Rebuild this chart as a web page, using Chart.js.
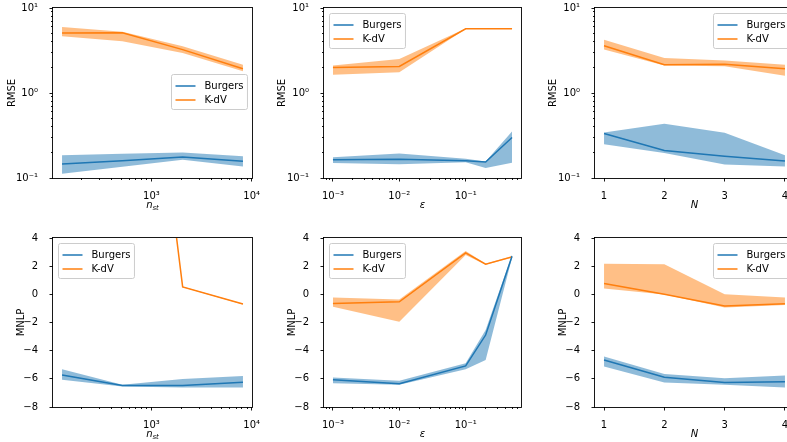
<!DOCTYPE html>
<html>
<head>
<meta charset="utf-8">
<script src="https://cdn.jsdelivr.net/npm/chart.js@4.4.0/dist/chart.umd.min.js"></script>
<style>
    html, body { margin: 0; padding: 0; background: #fff; overflow: hidden; width: 787px; height: 442px; }
    canvas { position: absolute; }
</style>
</head>
<body>
<canvas id="c0"></canvas>
<canvas id="c1"></canvas>
<canvas id="c2"></canvas>
<canvas id="c3"></canvas>
<canvas id="c4"></canvas>
<canvas id="c5"></canvas>
<script>
// ==================== DATA ====================
const nstValues = [128, 512, 2048, 8192];
const epsValues = [0.001, 0.01, 0.1, 0.2, 0.5];
const nValues = [1, 2, 3, 4];

// RMSE vs n_st
const rmseNstBurgers    = [0.146, 0.160, 0.177, 0.157];
const rmseNstBurgersLo  = [0.112, 0.136, 0.164, 0.137];
const rmseNstBurgersHi  = [0.185, 0.193, 0.200, 0.180];
const rmseNstKdv        = [5.08, 5.10, 3.24, 1.93];
const rmseNstKdvLo      = [4.64, 4.06, 2.95, 1.80];
const rmseNstKdvHi      = [5.98, 5.25, 3.54, 2.15];

// RMSE vs epsilon
const rmseEpsBurgers    = [0.164, 0.166, 0.160, 0.154, 0.300];
const rmseEpsBurgersLo  = [0.150, 0.145, 0.153, 0.131, 0.151];
const rmseEpsBurgersHi  = [0.175, 0.194, 0.168, 0.156, 0.354];
const rmseEpsKdv        = [2.00, 2.05, 5.70, 5.70, 5.70];
const rmseEpsKdvLo      = [1.64, 1.75, 5.65, 5.65, 5.65];
const rmseEpsKdvHi      = [2.10, 2.51, 5.75, 5.75, 5.75];

// RMSE vs N
const rmseNBurgers      = [0.333, 0.211, 0.180, 0.158];
const rmseNBurgersLo    = [0.250, 0.197, 0.144, 0.137];
const rmseNBurgersHi    = [0.344, 0.435, 0.340, 0.185];
const rmseNKdv          = [3.60, 2.15, 2.18, 1.93];
const rmseNKdvLo        = [3.24, 2.10, 2.06, 1.60];
const rmseNKdvHi        = [4.24, 2.58, 2.42, 2.15];

// MNLP vs n_st
const mnlpNstBurgers    = [-5.72, -6.47, -6.47, -6.24];
const mnlpNstBurgersLo  = [-6.07, -6.54, -6.61, -6.61];
const mnlpNstBurgersHi  = [-5.32, -6.42, -6.02, -5.79];
const mnlpNstKdv        = [45, 35, 0.53, -0.69];
const mnlpNstKdvLo      = [45, 35, 0.50, -0.72];
const mnlpNstKdvHi      = [45, 35, 0.56, -0.66];

// MNLP vs epsilon
const mnlpEpsBurgers    = [-6.07, -6.35, -5.08, -2.89, 2.70];
const mnlpEpsBurgersLo  = [-6.31, -6.42, -5.32, -4.66, 2.60];
const mnlpEpsBurgersHi  = [-5.90, -6.14, -4.90, -2.53, 2.82];
const mnlpEpsKdv        = [-0.65, -0.53, 2.94, 2.14, 2.66];
const mnlpEpsKdvLo      = [-0.88, -1.94, 2.80, 2.10, 2.60];
const mnlpEpsKdvHi      = [-0.22, -0.36, 3.08, 2.18, 2.72];

// MNLP vs N
const mnlpNBurgers      = [-4.66, -5.88, -6.26, -6.21];
const mnlpNBurgersLo    = [-5.13, -6.26, -6.42, -6.61];
const mnlpNBurgersHi    = [-4.42, -5.65, -5.95, -5.76];
const mnlpNKdv          = [0.77, 0.00, -0.83, -0.67];
const mnlpNKdvLo        = [0.42, -0.01, -0.93, -0.76];
const mnlpNKdvHi        = [2.18, 2.14, 0.00, -0.22];

const linearYTicks = [-8, -6, -4, -2, 0, 2, 4];
const linearXTicks = [1, 2, 3, 4];

// ==================== STYLE ====================
const FONT = '"DejaVu Sans", sans-serif';
const BLUE = '#1f77b4';
const ORANGE = '#ff7f0e';
const BLUE_FILL = 'rgba(31, 119, 180, 0.5)';
const ORANGE_FILL = 'rgba(255, 127, 14, 0.5)';

const SUP = { '-': '\u207b', '0': '\u2070', '1': '\u00b9', '2': '\u00b2', '3': '\u00b3', '4': '\u2074', '5': '\u2075' };

function logTicks(min, max) {
    const out = [];
    for (let e = Math.floor(Math.log10(min)); e <= Math.ceil(Math.log10(max)); e++) {
        for (let m = 1; m <= 9; m++) {
            const v = m * Math.pow(10, e);
            if (v >= min * (1 - 1e-9) && v <= max * (1 + 1e-9)) out.push(v);
        }
    }
    return out;
}

function logLabel(v) {
    const l = Math.log10(v);
    const e = Math.round(l);
    if (Math.abs(l - e) > 1e-6) return '';
    return '10' + String(e).split('').map(c => SUP[c]).join('');
}

function linLabel(v) {
    return String(v).replace('-', '\u2212');
}

// ==================== PANELS ====================
const panels = [
    { id: 'c0', left: 0, top: 0, width: 262, height: 221, area: [53, 8, 252, 178],
      xType: 'logarithmic', xMin: 103.97, xMax: 10085, xs: nstValues, xLabel: { main: 'n', sub: 'st' },
      yType: 'logarithmic', yMin: 0.1, yMax: 10, yLabel: 'RMSE', yLabelOffset: 41, legend: 'center right',
      burgers: [rmseNstBurgers, rmseNstBurgersLo, rmseNstBurgersHi], kdv: [rmseNstKdv, rmseNstKdvLo, rmseNstKdvHi] },
    { id: 'c1', left: 262, top: 0, width: 262, height: 221, area: [324, 8, 521, 178],
      xType: 'logarithmic', xMin: 0.000733, xMax: 0.6824, xs: epsValues, xLabel: { main: '\u03b5' },
      yType: 'logarithmic', yMin: 0.1, yMax: 10, yLabel: 'RMSE', yLabelOffset: 42, legend: 'upper left',
      burgers: [rmseEpsBurgers, rmseEpsBurgersLo, rmseEpsBurgersHi], kdv: [rmseEpsKdv, rmseEpsKdvLo, rmseEpsKdvHi] },
    { id: 'c2', left: 524, top: 0, width: 280, height: 221, area: [595, 8, 794, 178],
      xType: 'linear', xMin: 0.85, xMax: 4.15, xs: nValues, xLabel: { main: 'N' },
      yType: 'logarithmic', yMin: 0.1, yMax: 10, yLabel: 'RMSE', yLabelOffset: 42, legend: 'upper right',
      burgers: [rmseNBurgers, rmseNBurgersLo, rmseNBurgersHi], kdv: [rmseNKdv, rmseNKdvLo, rmseNKdvHi] },
    { id: 'c3', left: 0, top: 221, width: 262, height: 221, area: [53, 238, 252, 407],
      xType: 'logarithmic', xMin: 103.97, xMax: 10085, xs: nstValues, xLabel: { main: 'n', sub: 'st' },
      yType: 'linear', yMin: -8, yMax: 4, yLabel: 'MNLP', yLabelOffset: 32, legend: 'upper left',
      burgers: [mnlpNstBurgers, mnlpNstBurgersLo, mnlpNstBurgersHi], kdv: [mnlpNstKdv, mnlpNstKdvLo, mnlpNstKdvHi] },
    { id: 'c4', left: 262, top: 221, width: 262, height: 221, area: [324, 238, 521, 407],
      xType: 'logarithmic', xMin: 0.000733, xMax: 0.6824, xs: epsValues, xLabel: { main: '\u03b5' },
      yType: 'linear', yMin: -8, yMax: 4, yLabel: 'MNLP', yLabelOffset: 32, legend: 'upper left',
      burgers: [mnlpEpsBurgers, mnlpEpsBurgersLo, mnlpEpsBurgersHi], kdv: [mnlpEpsKdv, mnlpEpsKdvLo, mnlpEpsKdvHi] },
    { id: 'c5', left: 524, top: 221, width: 280, height: 221, area: [595, 238, 794, 407],
      xType: 'linear', xMin: 0.85, xMax: 4.15, xs: nValues, xLabel: { main: 'N' },
      yType: 'linear', yMin: -8, yMax: 4, yLabel: 'MNLP', yLabelOffset: 32, legend: 'upper right',
      burgers: [mnlpNBurgers, mnlpNBurgersLo, mnlpNBurgersHi], kdv: [mnlpNKdv, mnlpNKdvLo, mnlpNKdvHi] }
];

// ==================== PLUGIN: frame, ticks, labels, legend ====================
const framePlugin = {
    id: 'frame',
    afterDraw(chart, args, opts) {
        const ctx = chart.ctx;
        const a = chart.chartArea;
        ctx.save();

        // tick marks (major 3.5, minor 2)
        ctx.strokeStyle = '#000';
        ctx.lineWidth = 0.9;
        const sx = chart.scales.x, sy = chart.scales.y;
        sx.ticks.forEach(t => {
            const px = sx.getPixelForValue(t.value);
            if (px < a.left - 0.5 || px > a.right + 0.5) return;
            const len = t.label ? 3.5 : 2;
            const x = Math.round(px - 0.5) + 0.5;
            ctx.beginPath(); ctx.moveTo(x, a.bottom); ctx.lineTo(x, a.bottom + len); ctx.stroke();
        });
        sy.ticks.forEach(t => {
            const py = sy.getPixelForValue(t.value);
            if (py < a.top - 0.5 || py > a.bottom + 0.5) return;
            const len = t.label ? 3.5 : 2;
            const y = Math.round(py - 0.5) + 0.5;
            ctx.beginPath(); ctx.moveTo(a.left, y); ctx.lineTo(a.left - len, y); ctx.stroke();
        });

        // axes box
        ctx.strokeRect(Math.round(a.left) - 0.5, Math.round(a.top) - 0.5,
            Math.round(a.right - a.left) + 1, Math.round(a.bottom - a.top) + 1);

        // y label
        ctx.fillStyle = '#000';
        ctx.font = '10px ' + FONT;
        ctx.textAlign = 'center';
        ctx.textBaseline = 'middle';
        ctx.save();
        ctx.translate(a.left - opts.yLabelOffset, (a.top + a.bottom) / 2);
        ctx.rotate(-Math.PI / 2);
        ctx.fillText(opts.yLabel, 0, 0);
        ctx.restore();

        // x label (mathtext-like, italic with optional subscript)
        const xl = opts.xLabel;
        const base = a.bottom + 29.5;
        ctx.textAlign = 'left';
        ctx.textBaseline = 'alphabetic';
        ctx.font = 'italic 10px ' + FONT;
        const wMain = ctx.measureText(xl.main).width;
        let wSub = 0;
        if (xl.sub) {
            ctx.font = 'italic 7px ' + FONT;
            wSub = ctx.measureText(xl.sub).width;
        }
        const x0 = (a.left + a.right) / 2 - (wMain + wSub) / 2;
        ctx.font = 'italic 10px ' + FONT;
        ctx.fillText(xl.main, x0, base);
        if (xl.sub) {
            ctx.font = 'italic 7px ' + FONT;
            ctx.fillText(xl.sub, x0 + wMain, base + 2.5);
        }

        // legend
        const entries = [{ label: 'Burgers', color: BLUE }, { label: 'K-dV', color: ORANGE }];
        ctx.font = '10px ' + FONT;
        const tw = Math.max(...entries.map(e => ctx.measureText(e.label).width));
        const w = 33 + tw + 4, h = 35;
        let lx, ly;
        if (opts.legend === 'upper left') { lx = a.left + 5; ly = a.top + 5; }
        else if (opts.legend === 'upper right') { lx = a.right - 5 - w; ly = a.top + 5; }
        else { lx = a.right - 5 - w; ly = (a.top + a.bottom) / 2 - h / 2 - 1.5; }
        lx = Math.round(lx) + 0.5; ly = Math.round(ly) + 0.5;
        ctx.beginPath();
        ctx.roundRect(lx, ly, w, h, 2);
        ctx.fillStyle = 'rgba(255,255,255,0.8)';
        ctx.fill();
        ctx.strokeStyle = '#cccccc';
        ctx.lineWidth = 1;
        ctx.stroke();
        ctx.textBaseline = 'middle';
        entries.forEach((e, i) => {
            const y = ly + 11.5 + i * 14;
            ctx.strokeStyle = e.color;
            ctx.lineWidth = 1.5;
            ctx.beginPath(); ctx.moveTo(lx + 4, y); ctx.lineTo(lx + 24, y); ctx.stroke();
            ctx.fillStyle = '#000';
            ctx.fillText(e.label, lx + 33, y + 0.5);
        });

        ctx.restore();
    }
};

// ==================== CHARTS ====================
function bandDatasets(label, color, fill, xs, series) {
    const [mid, lo, hi] = series;
    const pts = arr => xs.map((x, i) => ({ x: x, y: arr[i] }));
    return [
        { label: label, data: pts(mid), borderColor: color, borderWidth: 1.5, pointRadius: 0, fill: false, tension: 0 },
        { label: label + ' upper', data: pts(hi), borderColor: 'rgba(0,0,0,0)', borderWidth: 0, backgroundColor: fill, pointRadius: 0, fill: '+1', tension: 0 },
        { label: label + ' lower', data: pts(lo), borderColor: 'rgba(0,0,0,0)', borderWidth: 0, pointRadius: 0, fill: false, tension: 0 }
    ];
}

function makeChart(p) {
    const canvas = document.getElementById(p.id);
    canvas.width = p.width;
    canvas.height = p.height;
    canvas.style.left = p.left + 'px';
    canvas.style.top = p.top + 'px';

    const [al, at, ar, ab] = p.area;
    const yWidth = al - p.left;
    const xHeight = p.top + p.height - ab;
    const padTop = at - p.top;
    const padRight = p.left + p.width - ar;

    const xTicks = p.xType === 'logarithmic' ? logTicks(p.xMin, p.xMax) : linearXTicks;
    const yTicks = p.yType === 'logarithmic' ? logTicks(p.yMin, p.yMax) : linearYTicks;
    const tickFont = { family: FONT, size: 10 };

    new Chart(canvas.getContext('2d'), {
        type: 'line',
        data: {
            datasets: [
                ...bandDatasets('Burgers', BLUE, BLUE_FILL, p.xs, p.burgers),
                ...bandDatasets('K-dV', ORANGE, ORANGE_FILL, p.xs, p.kdv)
            ]
        },
        options: {
            responsive: false,
            animation: false,
            devicePixelRatio: 1,
            layout: { padding: { top: padTop, right: padRight, left: 0, bottom: 0 } },
            plugins: {
                legend: { display: false },
                tooltip: { enabled: false },
                frame: { xLabel: p.xLabel, yLabel: p.yLabel, yLabelOffset: p.yLabelOffset, legend: p.legend }
            },
            scales: {
                x: {
                    type: p.xType,
                    position: 'bottom',
                    min: p.xMin,
                    max: p.xMax,
                    grid: { display: false },
                    border: { display: false },
                    ticks: {
                        color: '#000', font: tickFont, padding: 4, autoSkip: false, maxRotation: 0, minRotation: 0,
                        callback: v => p.xType === 'logarithmic' ? logLabel(v) : linLabel(v)
                    },
                    afterBuildTicks: s => { s.ticks = xTicks.map(v => ({ value: v })); },
                    afterFit: s => { s.height = xHeight; s.paddingLeft = 0; s.paddingRight = 0; }
                },
                y: {
                    type: p.yType,
                    position: 'left',
                    min: p.yMin,
                    max: p.yMax,
                    grid: { display: false },
                    border: { display: false },
                    ticks: {
                        color: '#000', font: tickFont, padding: 7, autoSkip: false,
                        callback: v => p.yType === 'logarithmic' ? logLabel(v) : linLabel(v)
                    },
                    afterBuildTicks: s => { s.ticks = yTicks.map(v => ({ value: v })); },
                    afterFit: s => { s.width = yWidth; s.paddingTop = 0; s.paddingBottom = 0; }
                }
            }
        },
        plugins: [framePlugin]
    });
}

panels.forEach(makeChart);
</script>
</body>
</html>
